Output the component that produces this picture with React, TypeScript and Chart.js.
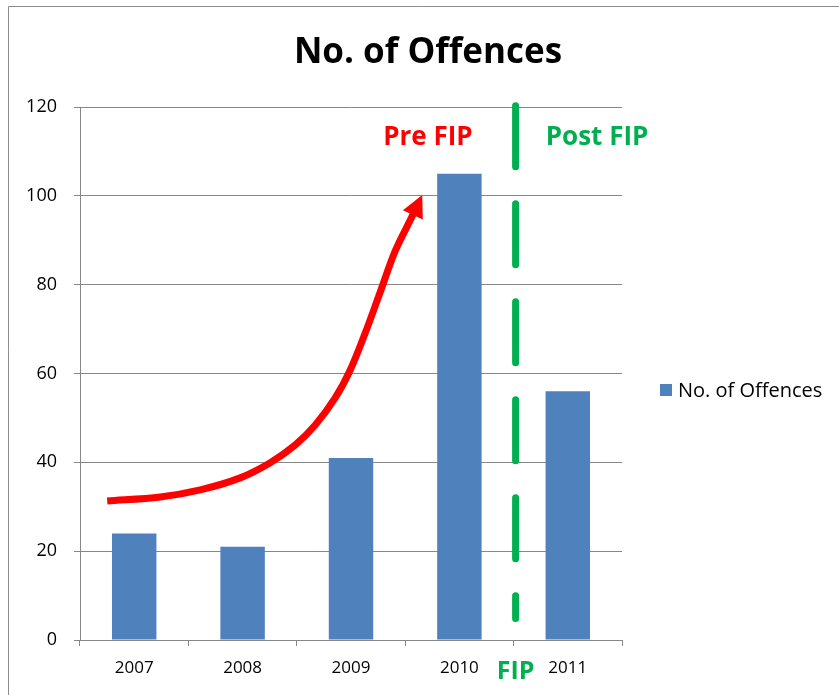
import React, { useEffect, useRef } from 'react';
import { Chart, registerables } from 'chart.js';

Chart.register(...registerables);

// ---- data ----
const categories = ['2007', '2008', '2009', '2010', '2011'];
const offences = [24, 21, 41, 105, 56];
const seriesLabel = 'No. of Offences';
const chartTitle = 'No. of Offences';
const yMin = 0;
const yMax = 120;
const yStep = 20;

// red trend arrow path in (category index, value) coordinates; last point is the tip
const arrowX = [-0.249, 0.24, 0.609, 0.978, 1.255, 1.485, 1.67, 1.854, 1.993, 2.131, 2.269, 2.408, 2.574, 2.657];
const arrowY = [31.3, 32.2, 33.8, 36.5, 39.9, 43.9, 48.4, 54.5, 60.8, 69.1, 78.3, 87.6, 95.9, 100.2];

// FIP divider between 2010 and 2011
const fipIndex = 3.5;
const fipTop = 120.3;
const fipBottom = 4.84;
const preLabel = 'Pre FIP';
const postLabel = 'Post FIP';
const fipLabel = 'FIP';
const preLabelX = 2.71;
const postLabelX = 4.27;
const annotLabelY = 111.4;

const FONT = "'Open Sans', 'DejaVu Sans', sans-serif";
const GRID = '#878787';
const BAR = '#4F81BD';
const RED = '#FF0000';
const GREEN = '#00B050';

const norm = (x: number, y: number) => {
  const l = Math.hypot(x, y) || 1;
  return { x: x / l, y: y / l };
};

const overlay = {
  id: 'overlay',
  beforeDraw(chart: any) {
    const ctx = chart.ctx;
    ctx.save();
    ctx.fillStyle = '#ffffff';
    ctx.fillRect(0, 0, chart.width, chart.height);
    ctx.strokeStyle = '#8c8c8c';
    ctx.lineWidth = 1;
    ctx.beginPath();
    ctx.moveTo(8.5, chart.height);
    ctx.lineTo(8.5, 6.5);
    ctx.lineTo(chart.width, 6.5);
    ctx.stroke();
    ctx.restore();
  },
  afterDraw(chart: any) {
    const ctx = chart.ctx;
    const xs = chart.scales.x;
    const ys = chart.scales.y;
    const area = chart.chartArea;
    ctx.save();

    // title
    ctx.fillStyle = '#000';
    ctx.font = `bold 35px ${FONT}`;
    ctx.textAlign = 'center';
    ctx.textBaseline = 'alphabetic';
    ctx.fillText(chartTitle, 428, 63);

    // legend
    const ly = 390;
    ctx.fillStyle = BAR;
    ctx.fillRect(area.right + 38, ly - 6, 12, 12);
    ctx.fillStyle = '#000';
    ctx.font = `20px ${FONT}`;
    ctx.textAlign = 'left';
    ctx.fillText(seriesLabel, area.right + 56, ly + 7);

    // green dashed FIP line
    const fx = xs.getPixelForValue(fipIndex) + 2;
    ctx.strokeStyle = GREEN;
    ctx.lineWidth = 7;
    ctx.lineCap = 'round';
    ctx.setLineDash([61, 37]);
    ctx.beginPath();
    ctx.moveTo(fx, ys.getPixelForValue(fipTop));
    ctx.lineTo(fx, ys.getPixelForValue(fipBottom));
    ctx.stroke();
    ctx.setLineDash([]);

    // red curved arrow
    const pts = arrowX.map((v, i) => ({ x: xs.getPixelForValue(v), y: ys.getPixelForValue(arrowY[i]) }));
    const tip = pts[pts.length - 1];
    const shaft = pts.slice(0, pts.length - 1);
    const n = shaft.length;
    const tangents = shaft.map((p, i) => {
      if (i === 0) return norm(shaft[1].x - p.x, shaft[1].y - p.y);
      if (i === n - 1) return norm(tip.x - p.x, tip.y - p.y);
      return norm(shaft[i + 1].x - shaft[i - 1].x, shaft[i + 1].y - shaft[i - 1].y);
    });
    ctx.strokeStyle = RED;
    ctx.fillStyle = RED;
    ctx.lineWidth = 7;
    ctx.lineCap = 'butt';
    ctx.lineJoin = 'round';
    ctx.beginPath();
    ctx.moveTo(shaft[0].x, shaft[0].y);
    for (let i = 0; i < n - 1; i++) {
      const p1 = shaft[i];
      const p2 = shaft[i + 1];
      const d = Math.hypot(p2.x - p1.x, p2.y - p1.y) / 3;
      ctx.bezierCurveTo(
        p1.x + tangents[i].x * d, p1.y + tangents[i].y * d,
        p2.x - tangents[i + 1].x * d, p2.y - tangents[i + 1].y * d,
        p2.x, p2.y,
      );
    }
    ctx.stroke();
    // head
    const base = shaft[n - 1];
    const u = norm(tip.x - base.x, tip.y - base.y);
    const headLen = 22;
    const half = 11;
    const bx = tip.x - u.x * headLen;
    const by = tip.y - u.y * headLen;
    ctx.beginPath();
    ctx.moveTo(tip.x, tip.y);
    ctx.lineTo(bx - u.y * half, by + u.x * half);
    ctx.lineTo(bx + u.y * half, by - u.x * half);
    ctx.closePath();
    ctx.fill();

    // annotation labels
    ctx.font = `bold 26px ${FONT}`;
    ctx.textAlign = 'center';
    ctx.textBaseline = 'alphabetic';
    ctx.fillStyle = RED;
    ctx.fillText(preLabel, xs.getPixelForValue(preLabelX), ys.getPixelForValue(annotLabelY));
    ctx.fillStyle = GREEN;
    ctx.fillText(postLabel, xs.getPixelForValue(postLabelX), ys.getPixelForValue(annotLabelY));
    ctx.font = `bold 25px ${FONT}`;
    ctx.fillText(fipLabel, fx, area.bottom + 39);

    ctx.restore();
  },
};

export default function App() {
  const ref = useRef<HTMLCanvasElement | null>(null);
  useEffect(() => {
    if (!ref.current) return;
    const chart = new Chart(ref.current, {
      type: 'bar',
      data: {
        labels: categories,
        datasets: [
          {
            label: seriesLabel,
            data: offences,
            backgroundColor: BAR,
            borderWidth: 0,
            barPercentage: 0.41,
            categoryPercentage: 1.0,
          },
        ],
      },
      options: {
        responsive: false,
        animation: false,
        layout: { padding: { top: 107, right: 217, bottom: 0, left: 0 } },
        plugins: {
          legend: { display: false },
          title: { display: false },
          tooltip: { enabled: false },
        },
        scales: {
          x: {
            grid: { display: true, drawOnChartArea: false, drawTicks: true, tickLength: 6, color: GRID, offset: true },
            border: { display: true, color: GRID, width: 1 },
            ticks: { color: '#000', font: { family: FONT, size: 17 }, padding: 12, maxRotation: 0 },
            afterFit: (s: any) => { s.height = 55; },
          },
          y: {
            min: yMin,
            max: yMax,
            ticks: { stepSize: yStep, color: '#000', font: { family: FONT, size: 18 }, padding: 17 },
            grid: { color: GRID, tickLength: 6, drawTicks: true },
            border: { display: true, color: GRID, width: 1 },
            afterFit: (s: any) => { s.width = 80; },
          },
        },
      },
      plugins: [overlay],
    });
    return () => chart.destroy();
  }, []);
  return (
    <div style={{ position: 'absolute', left: 0, top: 0, width: 839, height: 695 }}>
      <canvas ref={ref} width={839} height={695} style={{ display: 'block' }} />
    </div>
  );
}
